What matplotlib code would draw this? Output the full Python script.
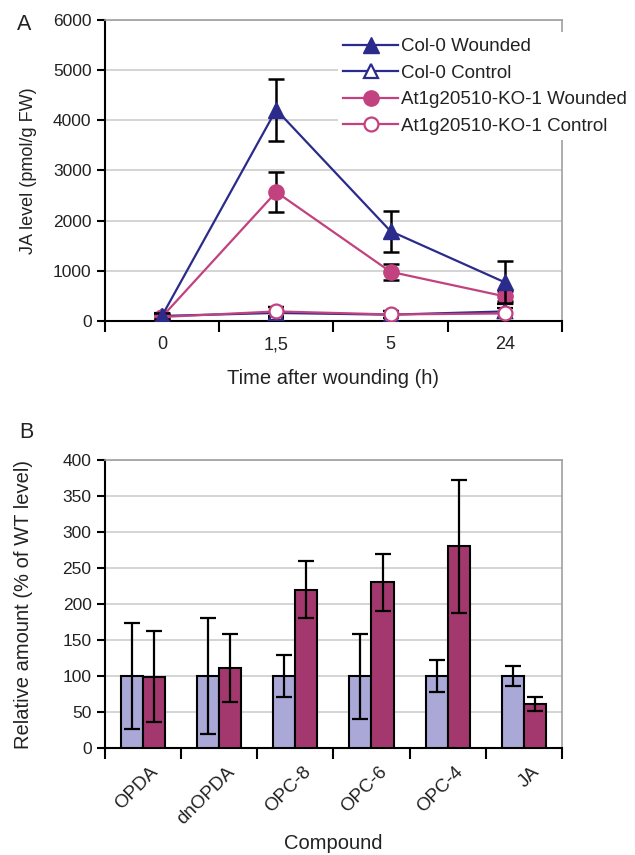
"""JA levels after wounding (A) and relative oxylipin amounts (B)."""

import matplotlib.pyplot as plt
import numpy as np

# Panel A: time course
times = ["0", "1,5", "5", "24"]
col0_wounded = [100, 4210, 1790, 770]
col0_wounded_err = [60, 620, 410, 420]
col0_control = [100, 160, 125, 190]
col0_control_err = [60, 110, 70, 140]
ko_wounded = [80, 2570, 980, 490]
ko_wounded_err = [50, 390, 165, 100]
ko_control = [80, 190, 130, 150]
ko_control_err = [50, 90, 70, 100]

# Panel B: compounds
compounds = ["OPDA", "dnOPDA", "OPC-8", "OPC-6", "OPC-4", "JA"]
wt_amount = [100, 100, 100, 100, 100, 100]
wt_err = [74, 80, 29, 59, 22, 14.5]
ko_amount = [99, 111, 220, 230, 280, 61]
ko_err = [63, 47, 40, 40, 92, 9.5]

NAVY = "#2a2b8a"
MAGENTA = "#c2417f"
LAVENDER = "#a9a8d6"
MAROON = "#a3386f"
GRID = "#d4d4d4"


def setup_plt() -> None:
    """Configure matplotlib plot formatting."""
    plt.rcParams["font.family"] = ["Liberation Sans", "DejaVu Sans"]
    plt.rcParams["font.size"] = 12.5
    plt.rcParams["text.color"] = "#222222"
    plt.rcParams["axes.labelcolor"] = "#222222"
    plt.rcParams["xtick.color"] = "black"
    plt.rcParams["ytick.color"] = "black"
    plt.rcParams["xtick.labelcolor"] = "#222222"
    plt.rcParams["ytick.labelcolor"] = "#222222"


def style_axes(ax, n) -> None:
    """Category axis with ticks at boundaries, grey top/right spines."""
    ax.set_xlim(-0.5, n - 0.5)
    ax.set_xticks(np.arange(n + 1) - 0.5)
    ax.set_xticklabels([])
    ax.tick_params(axis="x", which="major", direction="out", length=8, width=1.5)
    ax.tick_params(axis="y", direction="out", length=6, width=1.5, labelsize=12.5)
    for side in ("left", "bottom"):
        ax.spines[side].set_linewidth(1.5)
        ax.spines[side].set_color("black")
    for side in ("top", "right"):
        ax.spines[side].set_linewidth(1.2)
        ax.spines[side].set_color("#a0a0a0")
    ax.yaxis.grid(True, color=GRID, linewidth=1.4)
    ax.set_axisbelow(True)


def main() -> None:
    setup_plt()
    fig = plt.figure(figsize=(6.35, 8.55), dpi=100)

    # ---- Panel A
    ax1 = fig.add_axes([0.165, 0.6246, 0.72, 0.3521])
    x = np.arange(len(times))
    style_axes(ax1, len(times))
    ax1.set_xticks(x, minor=True)
    ax1.set_xticklabels(times, minor=True, fontsize=13)
    ax1.tick_params(axis="x", which="minor", length=0, pad=11)
    ax1.set_ylim(0, 6000)
    ax1.set_yticks(np.arange(0, 6001, 1000))

    err_kw = dict(ecolor="black", elinewidth=1.8, capsize=6, capthick=1.8)
    ax1.errorbar(x, col0_control, yerr=col0_control_err, color=NAVY, lw=1.6,
                 marker="^", ms=10, mfc="white", mec=NAVY, mew=1.6,
                 label="Col-0 Control", zorder=3, **err_kw)
    ax1.errorbar(x, ko_control, yerr=ko_control_err, color=MAGENTA, lw=1.6,
                 marker="o", ms=10, mfc="white", mec=MAGENTA, mew=1.6,
                 label="At1g20510-KO-1 Control", zorder=3, **err_kw)
    ax1.errorbar(x, ko_wounded, yerr=ko_wounded_err, color=MAGENTA, lw=1.6,
                 marker="o", ms=11, mfc=MAGENTA, mec=MAGENTA,
                 label="At1g20510-KO-1 Wounded", zorder=4, **err_kw)
    ax1.errorbar(x, col0_wounded, yerr=col0_wounded_err, color=NAVY, lw=1.6,
                 marker="^", ms=11, mfc=NAVY, mec=NAVY,
                 label="Col-0 Wounded", zorder=5, **err_kw)

    handles, labels = ax1.get_legend_handles_labels()
    order = [labels.index(name) for name in
             ["Col-0 Wounded", "Col-0 Control",
              "At1g20510-KO-1 Wounded", "At1g20510-KO-1 Control"]]
    leg = ax1.legend([handles[i][0] for i in order], [labels[i] for i in order],
                     loc="upper left", bbox_to_anchor=(0.532, 0.962),
                     bbox_transform=fig.transFigure, fontsize=13.5,
                     handlelength=2.9, handletextpad=0.15, labelspacing=0.5,
                     borderpad=0.3, borderaxespad=0, frameon=True,
                     fancybox=False, framealpha=1)
    leg.get_frame().set_facecolor("white")
    leg.get_frame().set_edgecolor("none")
    ax1.set_ylabel("JA level (pmol/g FW)", fontsize=13)
    ax1.yaxis.set_label_coords(-0.149, 0.5)
    ax1.set_xlabel("Time after wounding (h)", fontsize=14.5, labelpad=11)
    fig.text(0.038, 0.971, "A", fontsize=15.5, ha="center", va="center")

    # ---- Panel B
    ax2 = fig.add_axes([0.165, 0.1251, 0.72, 0.3368])
    n = len(compounds)
    xb = np.arange(n)
    style_axes(ax2, n)
    ax2.set_ylim(0, 400)
    ax2.set_yticks(np.arange(0, 401, 50))
    width = 0.29
    bar_kw = dict(edgecolor="black", linewidth=1.5, zorder=3)
    eb_kw = dict(fmt="none", ecolor="black", elinewidth=1.6, capsize=6,
                 capthick=1.6, zorder=4)
    ax2.bar(xb - width / 2, wt_amount, width, color=LAVENDER, **bar_kw)
    ax2.bar(xb + width / 2, ko_amount, width, color=MAROON, **bar_kw)
    ax2.errorbar(xb - width / 2, wt_amount, yerr=wt_err, **eb_kw)
    ax2.errorbar(xb + width / 2, ko_amount, yerr=ko_err, **eb_kw)
    ax2.set_xticks(xb + 0.09, minor=True)
    ax2.set_xticklabels(compounds, minor=True, rotation=45, ha="right",
                        rotation_mode="anchor", fontsize=13.5)
    ax2.tick_params(axis="x", which="minor", length=0, pad=11)
    ax2.set_ylabel("Relative amount (% of WT level)", fontsize=14.5)
    ax2.yaxis.set_label_coords(-0.158, 0.5)
    ax2.set_xlabel("Compound", fontsize=14.5)
    ax2.xaxis.label.set_va("center")
    ax2.xaxis.set_label_coords(0.5, -0.33)
    fig.text(0.041, 0.494, "B", fontsize=15.5, ha="center", va="center")

    fig.savefig("out.png", dpi=100)


if __name__ == "__main__":
    main()
